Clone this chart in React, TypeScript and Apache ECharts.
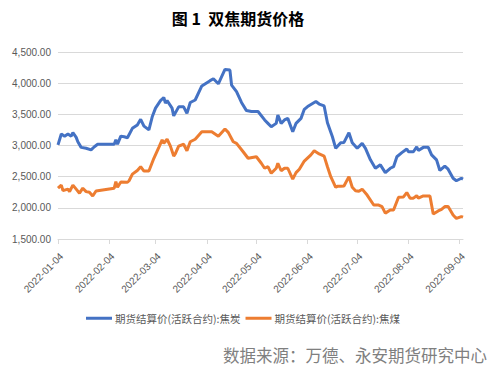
import React, { useEffect, useRef } from "react";
import * as echarts from "echarts";

const titleText = "图 1  双焦期货价格";
const sourceText = "数据来源：万德、永安期货研究中心";
const seriesNames = ["期货结算价(活跃合约):焦炭", "期货结算价(活跃合约):焦煤"];

const cokeDates = ['2022-01-04','2022-01-06','2022-01-08','2022-01-10','2022-01-12','2022-01-13','2022-01-15','2022-01-16','2022-01-18','2022-01-21','2022-01-24','2022-01-26','2022-01-28','2022-02-07','2022-02-08','2022-02-09','2022-02-11','2022-02-13','2022-02-15','2022-02-18','2022-02-21','2022-02-23','2022-02-25','2022-02-28','2022-03-02','2022-03-04','2022-03-07','2022-03-09','2022-03-10','2022-03-11','2022-03-14','2022-03-15','2022-03-18','2022-03-21','2022-03-23','2022-03-25','2022-03-28','2022-04-01','2022-04-06','2022-04-08','2022-04-11','2022-04-15','2022-04-18','2022-04-19','2022-04-22','2022-04-25','2022-04-28','2022-05-01','2022-05-05','2022-05-09','2022-05-11','2022-05-13','2022-05-16','2022-05-17','2022-05-19','2022-05-21','2022-05-23','2022-05-26','2022-05-28','2022-05-31','2022-06-02','2022-06-04','2022-06-09','2022-06-11','2022-06-14','2022-06-16','2022-06-19','2022-06-21','2022-06-24','2022-06-26','2022-06-29','2022-07-01','2022-07-04','2022-07-07','2022-07-09','2022-07-12','2022-07-15','2022-07-18','2022-07-21','2022-07-24','2022-07-26','2022-07-28','2022-07-31','2022-08-03','2022-08-04','2022-08-07','2022-08-09','2022-08-10','2022-08-13','2022-08-16','2022-08-18','2022-08-21','2022-08-23','2022-08-26','2022-08-28','2022-08-31','2022-09-02','2022-09-05','2022-09-06'];
const cokeValues = [3010,3185,3150,3185,3150,3205,3130,3060,2970,2955,2930,2980,3020,3020,3090,3020,3150,3140,3125,3275,3330,3420,3310,3250,3460,3600,3720,3770,3680,3720,3600,3475,3620,3620,3515,3690,3730,3955,4040,4070,3990,4220,4210,3970,3865,3690,3560,3545,3545,3410,3355,3300,3355,3490,3355,3410,3435,3220,3355,3435,3580,3625,3705,3665,3635,3365,3140,2955,3045,3050,3205,3045,2955,3035,2955,2770,2635,2690,2565,2635,2660,2820,2885,2945,2900,2900,2980,2920,2970,2970,2850,2770,2600,2670,2620,2475,2435,2475,2460];

const coalDates = ['2022-01-04','2022-01-06','2022-01-07','2022-01-10','2022-01-11','2022-01-13','2022-01-15','2022-01-17','2022-01-19','2022-01-21','2022-01-23','2022-01-25','2022-01-27','2022-02-07','2022-02-08','2022-02-09','2022-02-11','2022-02-15','2022-02-16','2022-02-18','2022-02-21','2022-02-23','2022-02-25','2022-02-28','2022-03-03','2022-03-06','2022-03-08','2022-03-09','2022-03-11','2022-03-13','2022-03-15','2022-03-16','2022-03-18','2022-03-21','2022-03-23','2022-03-25','2022-03-28','2022-04-01','2022-04-07','2022-04-11','2022-04-15','2022-04-17','2022-04-20','2022-04-22','2022-04-26','2022-04-29','2022-05-04','2022-05-07','2022-05-09','2022-05-11','2022-05-13','2022-05-16','2022-05-17','2022-05-19','2022-05-21','2022-05-23','2022-05-26','2022-05-28','2022-05-30','2022-06-02','2022-06-06','2022-06-08','2022-06-11','2022-06-14','2022-06-16','2022-06-18','2022-06-21','2022-06-22','2022-06-24','2022-06-26','2022-06-29','2022-07-01','2022-07-03','2022-07-05','2022-07-07','2022-07-10','2022-07-14','2022-07-17','2022-07-19','2022-07-21','2022-07-24','2022-07-26','2022-07-29','2022-08-01','2022-08-03','2022-08-05','2022-08-07','2022-08-09','2022-08-10','2022-08-13','2022-08-17','2022-08-19','2022-08-22','2022-08-24','2022-08-26','2022-08-28','2022-08-31','2022-09-02','2022-09-05','2022-09-06'];
const coalValues = [2315,2365,2275,2300,2260,2365,2300,2235,2315,2260,2250,2190,2270,2315,2420,2330,2415,2410,2435,2540,2600,2660,2590,2590,2795,2970,3090,3035,3100,2990,2830,2870,2990,3020,2915,3060,3100,3220,3220,3150,3265,3210,3060,3035,2900,2795,2820,2715,2635,2660,2555,2635,2715,2595,2635,2635,2460,2565,2620,2750,2850,2915,2865,2830,2660,2500,2330,2345,2345,2350,2500,2330,2275,2265,2300,2205,2045,2045,2020,1915,1965,1965,2170,2175,2245,2155,2155,2195,2155,2190,2190,1900,1950,1975,2020,2020,1885,1830,1860,1850];

const axisStart = "2022-01-04";
const axisEnd = "2022-09-06";
const yMin = 1500;
const yMax = 4500;
const yStep = 500;

function buildCalendar(a: string, b: string): string[] {
  const out: string[] = [];
  const s = Date.parse(a + "T00:00:00Z");
  const e = Date.parse(b + "T00:00:00Z");
  for (let t = s; t <= e; t += 86400000) out.push(new Date(t).toISOString().slice(0, 10));
  return out;
}

function fmt(v: number): string {
  const s = v.toFixed(2);
  const [i, d] = s.split(".");
  return i.replace(/\B(?=(\d{3})+(?!\d))/g, ",") + "." + d;
}

export default function App() {
  const ref = useRef<HTMLDivElement>(null);
  useEffect(() => {
    document.body.style.margin = "0";
    if (!ref.current) return;
    const chart = echarts.init(ref.current, undefined, { renderer: "svg" });
    const calendar = buildCalendar(axisStart, axisEnd);
    const toSeries = (dates: string[], vals: number[]) => {
      const m = new Map<string, number>();
      dates.forEach((d, i) => m.set(d, vals[i]));
      return calendar.map((d) => (m.has(d) ? m.get(d)! : null));
    };
    const isTick = (_i: number, v: string) => v.slice(8) === "04";
    const labelColor = "#595959";
    chart.setOption({
      animation: false,
      grid: { left: 58, right: 36, top: 52, bottom: 137, containLabel: false, outerBoundsMode: "none" },
      graphic: [
        {
          type: "text",
          x: 238,
          y: 18,
          style: {
            text: titleText,
            fontSize: 16,
            fontWeight: "bold",
            fontFamily: "Noto Sans CJK SC",
            fill: "#000",
            textAlign: "center",
            textVerticalAlign: "middle",
          },
        },
        {
          type: "text",
          x: 487,
          y: 355,
          style: {
            text: sourceText,
            fontSize: 16.5,
            fontFamily: "Noto Sans CJK SC",
            fill: "#7f7f7f",
            textAlign: "right",
            textVerticalAlign: "middle",
          },
        },
      ],
      legend: {
        left: 81,
        top: 308,
        icon: "rect",
        itemWidth: 26,
        itemHeight: 3,
        itemGap: 5,
        textStyle: { fontSize: 10.5, color: labelColor, fontFamily: "Noto Sans CJK SC", padding: [0, 0, 0, -2] },
        data: seriesNames,
      },
      xAxis: {
        type: "category",
        data: calendar,
        boundaryGap: false,
        axisLine: { lineStyle: { color: "#d9d9d9" } },
        axisTick: { interval: isTick, length: 5, lineStyle: { color: "#d9d9d9" } },
        axisLabel: {
          interval: isTick,
          rotate: 45,
          margin: 12,
          verticalAlign: "top",
          fontSize: 10,
          color: labelColor,
          fontFamily: "Liberation Sans",
        },
        splitLine: { show: false },
      },
      yAxis: {
        type: "value",
        min: yMin,
        max: yMax,
        interval: yStep,
        axisLine: { show: false },
        axisTick: { show: false },
        axisLabel: { formatter: fmt, fontSize: 10, color: labelColor, margin: 7, fontFamily: "Liberation Sans" },
        splitLine: { lineStyle: { color: "#d9d9d9", width: 1 } },
      },
      series: [
        {
          name: seriesNames[0],
          type: "line",
          data: toSeries(cokeDates, cokeValues),
          connectNulls: true,
          symbol: "none",
          lineStyle: { color: "#4472C4", width: 3 },
          itemStyle: { color: "#4472C4" },
        },
        {
          name: seriesNames[1],
          type: "line",
          data: toSeries(coalDates, coalValues),
          connectNulls: true,
          symbol: "none",
          lineStyle: { color: "#ED7D31", width: 3 },
          itemStyle: { color: "#ED7D31" },
        },
      ],
    });
    return () => chart.dispose();
  }, []);
  return <div ref={ref} style={{ width: 499, height: 376 }} />;
}
